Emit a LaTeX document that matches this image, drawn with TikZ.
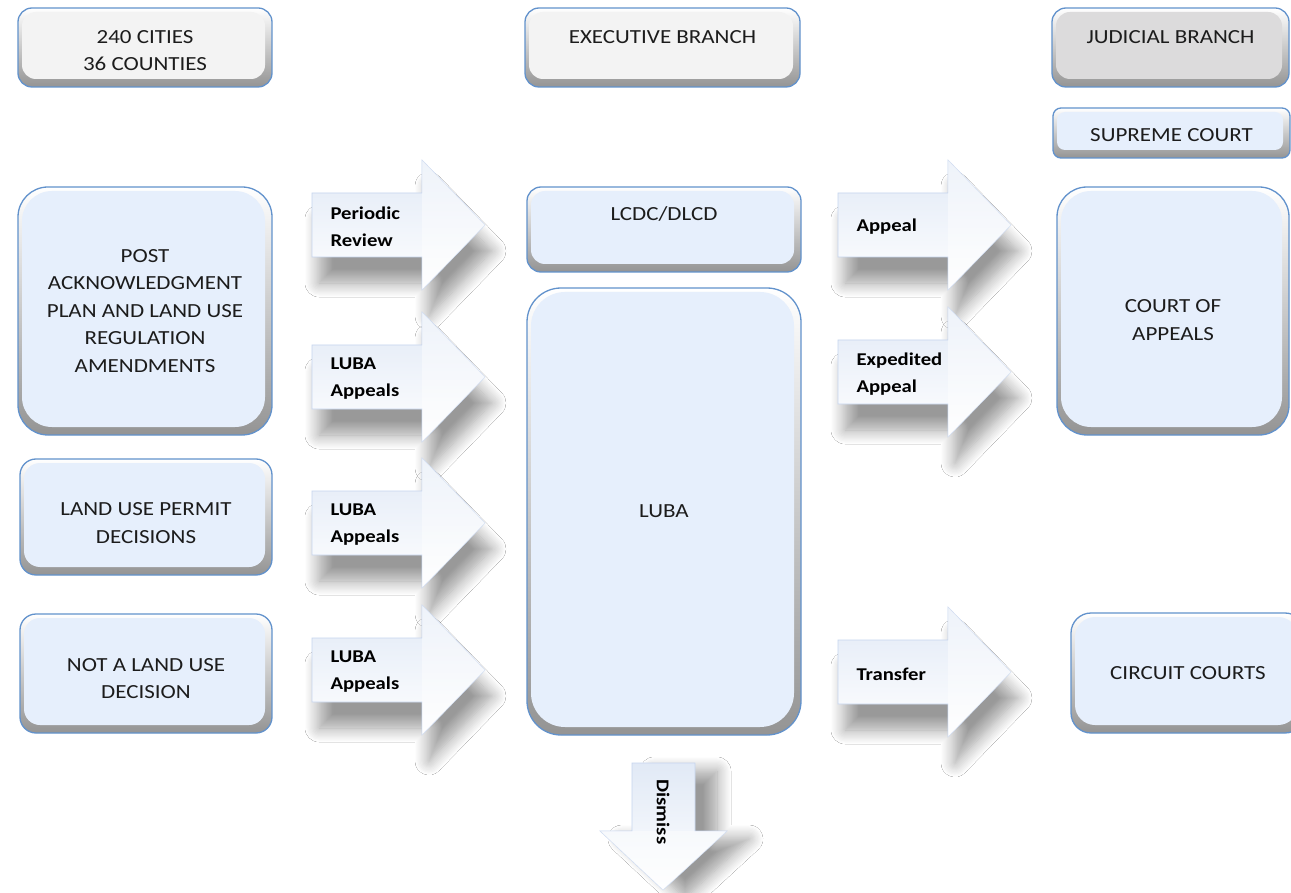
\documentclass[tikz,border=0pt]{standalone}
\usepackage{fontspec}
\setmainfont{Carlito}[FakeStretch=1.15]
\usepackage{xcolor}
\usetikzlibrary{calc,shadows.blur}

\definecolor{panelfill}{RGB}{230,239,252}
\definecolor{panelgray}{RGB}{220,219,220}
\definecolor{panelwhite}{RGB}{243,243,243}
\definecolor{paneledge}{RGB}{98,146,204}
\definecolor{arrowblue}{RGB}{212,224,242}
\definecolor{arrowedge}{RGB}{198,213,238}
\definecolor{inktext}{RGB}{28,28,28}

\tikzset{
  panel/.style 2 args={draw=paneledge, line width=1.3pt, rounded corners=#1,
    top color=white, bottom color=black!42,
    font=\fontsize{20}{27.5}\selectfont, text=inktext, align=center,
    path picture={\fill[#2, rounded corners=#1]
      ($(path picture bounding box.south west)+(4pt,8pt)$) rectangle
      ($(path picture bounding box.north east)+(-7pt,-4pt)$);}},
  toptext/.style={font=\fontsize{20}{27.5}\selectfont, text=inktext, align=center, anchor=center},
  arrowbody/.style={draw=arrowedge, line width=0.6pt,
    top color=arrowblue!70!white, middle color=arrowblue, bottom color=white},
  arrowshade/.style 2 args={blur shadow={shadow xshift=#1, shadow yshift=#2,
    shadow blur radius=14pt, shadow blur steps=12, shadow opacity=40}},
  arrowtext/.style={font=\bfseries\fontsize{18}{27}\selectfont, text=black,
    align=left, anchor=west}
}

\begin{document}
\begin{tikzpicture}[x=1pt, y=-1pt]
  \useasboundingbox (0,0) rectangle (1291,893);
  \fill[white] (0,0) rectangle (1291,893);

  % header boxes
  \node[panel={14pt}{panelwhite}, minimum width=254pt, minimum height=79pt,
    label={[toptext, yshift=-3pt]center:240 CITIES\\36 COUNTIES}] (cities) at (145,47.5) {};
  \node[panel={14pt}{panelwhite}, minimum width=275pt, minimum height=79pt,
    label={[toptext, yshift=-30pt]north:EXECUTIVE BRANCH}] (exec) at (662.5,47.5) {};
  \node[panel={14pt}{panelgray}, minimum width=237pt, minimum height=79pt,
    label={[toptext, yshift=-30pt]north:JUDICIAL BRANCH}] (judicial) at (1170.5,47.5) {};
  \node[panel={8pt}{panelfill}, minimum width=237pt, minimum height=50pt,
    label={[toptext, yshift=-2pt]center:SUPREME COURT}] (supreme) at (1171.5,133) {};

  % local decisions
  \node[panel={30pt}{panelfill}, minimum width=254pt, minimum height=248pt] (post) at (145,311)
    {POST\\ACKNOWLEDGMENT\\PLAN AND LAND USE\\REGULATION\\AMENDMENTS};
  \node[panel={16pt}{panelfill}, minimum width=252pt, minimum height=116pt,
    label={[toptext, yshift=-6pt]center:LAND USE PERMIT\\DECISIONS}] (permit) at (146,517) {};
  \node[panel={16pt}{panelfill}, minimum width=252pt, minimum height=119pt,
    label={[toptext, yshift=-5pt]center:NOT A LAND USE\\DECISION}] (notland) at (146,673.5) {};

  % state agencies
  \node[panel={14pt}{panelfill}, minimum width=274pt, minimum height=85pt,
    label={[toptext, yshift=-28pt]north:LCDC/DLCD}] (lcdc) at (664,229.5) {};
  \node[panel={34pt}{panelfill}, minimum width=274pt, minimum height=447pt] (luba) at (664,511.5) {LUBA};

  % courts
  \node[panel={30pt}{panelfill}, minimum width=232pt, minimum height=248pt,
    label={[toptext, yshift=-9pt]center:COURT OF\\APPEALS}] (coa) at (1173,311) {};
  \node[panel={20pt}{panelfill}, minimum width=234pt, minimum height=120pt] (circuit) at (1188,673) {CIRCUIT COURTS};

  % block arrows
  \foreach \ax/\ay/\alab [count=\i] in {312/225/{Periodic\\Review}, 312/377/{LUBA\\Appeals},
      312/523/{LUBA\\Appeals}, 312/670/{LUBA\\Appeals}, 838/225/{Appeal},
      838/372/{Expedited\\Appeal}, 838/672/{Transfer}}{
    \path[arrowbody, arrowshade={7pt}{-26pt}]
      (\ax,\ay-32) -- (\ax+110,\ay-32) -- (\ax+110,\ay-65) -- (\ax+173,\ay)
      -- (\ax+110,\ay+65) -- (\ax+110,\ay+32) -- (\ax,\ay+32) -- cycle;
    \fill[white, opacity=0.45] (\ax+110,\ay-65) -- (\ax+173,\ay) -- (\ax+110,\ay+65) -- cycle;
    \node[arrowtext] (flow\i) at (\ax+15,\ay+2) {\alab};
  }

  % dismiss arrow
  \path[arrowbody, arrowshade={22pt}{-8pt}]
    (632,763) -- (695,763) -- (695,831) -- (727,831) -- (663,890) -- (600,831) -- (632,831) -- cycle;
  \fill[white, opacity=0.45] (600,831) -- (727,831) -- (663,890) -- cycle;
  \node[arrowtext, rotate=-90, anchor=center] (dismiss) at (663,812) {Dismiss};
\end{tikzpicture}
\end{document}
